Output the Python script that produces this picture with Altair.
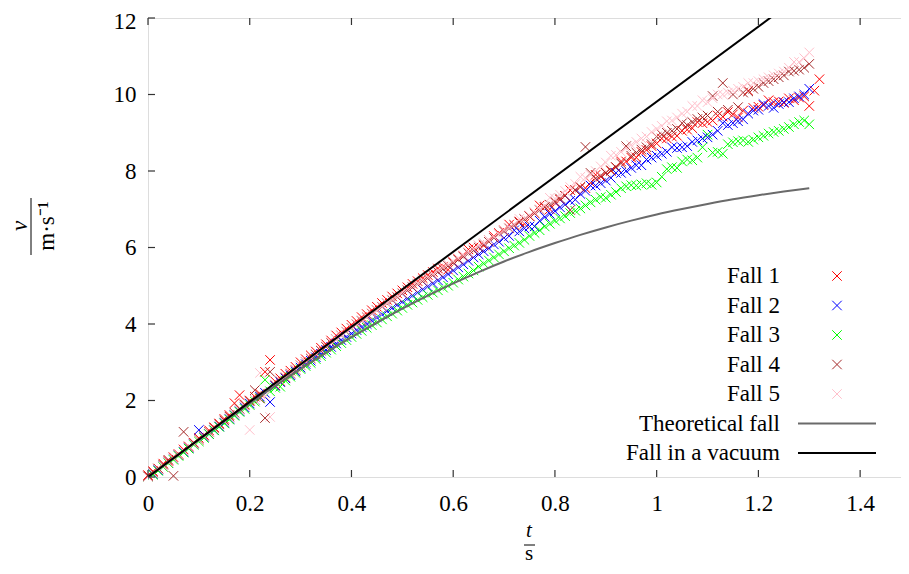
import altair as alt
import pandas as pd

# ---------------- data ----------------
T = [0.00, 0.01, 0.02, 0.03, 0.04, 0.05, 0.06, 0.07, 0.08, 0.09,
     0.10, 0.11, 0.12, 0.13, 0.14, 0.15, 0.16, 0.17, 0.18, 0.19,
     0.20, 0.21, 0.22, 0.23, 0.24, 0.25, 0.26, 0.27, 0.28, 0.29,
     0.30, 0.31, 0.32, 0.33, 0.34, 0.35, 0.36, 0.37, 0.38, 0.39,
     0.40, 0.41, 0.42, 0.43, 0.44, 0.45, 0.46, 0.47, 0.48, 0.49,
     0.50, 0.51, 0.52, 0.53, 0.54, 0.55, 0.56, 0.57, 0.58, 0.59,
     0.60, 0.61, 0.62, 0.63, 0.64, 0.65, 0.66, 0.67, 0.68, 0.69,
     0.70, 0.71, 0.72, 0.73, 0.74, 0.75, 0.76, 0.77, 0.78, 0.79,
     0.80, 0.81, 0.82, 0.83, 0.84, 0.85, 0.86, 0.87, 0.88, 0.89,
     0.90, 0.91, 0.92, 0.93, 0.94, 0.95, 0.96, 0.97, 0.98, 0.99,
     1.00, 1.01, 1.02, 1.03, 1.04, 1.05, 1.06, 1.07, 1.08, 1.09,
     1.10, 1.11, 1.12, 1.13, 1.14, 1.15, 1.16, 1.17, 1.18, 1.19,
     1.20, 1.21, 1.22, 1.23, 1.24, 1.25, 1.26, 1.27, 1.28, 1.29,
     1.30, 1.31, 1.32]

FALL1 = [0.05, 0.15, 0.22, 0.35, 0.42, 0.52, 0.60, 0.72, 0.80, 0.90,
         1.02, 1.10, 1.22, 1.30, 1.40, 1.52, 1.62, 1.93, 2.14, 1.90,
         2.00, 2.10, 2.18, 2.75, 3.06, 2.50, 2.58, 2.70, 2.78, 2.88,
         3.00, 3.08, 3.18, 3.28, 3.38, 3.47, 3.57, 3.70, 3.78, 3.88,
         3.98, 4.08, 4.18, 4.26, 4.36, 4.45, 4.55, 4.63, 4.72, 4.80,
         4.88, 4.96, 5.05, 5.12, 5.20, 5.28, 5.36, 5.45, 5.50, 5.42,
         5.62, 5.70, 5.78, 5.95, 6.00, 6.05, 6.05, 6.20, 6.30, 6.38,
         6.45, 6.60, 6.60, 6.68, 6.62, 6.82, 6.90, 7.10, 7.05, 7.00,
         7.18, 7.25, 7.35, 7.50, 7.50, 7.58, 7.55, 7.70, 7.90, 7.85,
         7.95, 8.00, 8.10, 8.25, 8.25, 8.35, 8.35, 8.50, 8.55, 8.65,
         8.72, 8.85, 8.85, 8.90, 8.92, 9.05, 9.08, 9.12, 9.28, 9.25,
         9.28, 9.32, 9.45, 9.42, 9.54, 9.48, 9.40, 9.58, 10.10, 9.65,
         9.68, 9.72, 9.85, 9.80, 9.82, 9.78, 9.90, 9.85, 9.92, 9.95,
         9.70, 10.10, 10.40]

FALL2 = [0.00, 0.08, 0.18, 0.28, 0.38, 0.48, 0.57, 0.66, 0.76, 0.86,
         1.23, 1.05, 1.12, 1.22, 1.32, 1.42, 1.52, 1.62, 1.72, 1.82,
         1.92, 2.02, 2.10, 2.20, 1.96, 2.38, 2.48, 2.58, 2.66, 2.76,
         2.86, 2.95, 3.04, 3.13, 3.22, 3.32, 3.40, 3.49, 3.58, 3.66,
         3.75, 3.84, 3.92, 4.00, 4.09, 4.17, 4.25, 4.34, 4.42, 4.50,
         4.58, 4.66, 4.74, 4.82, 4.90, 4.98, 5.06, 5.14, 5.22, 5.30,
         5.40, 5.48, 5.56, 5.65, 5.74, 5.82, 5.90, 5.98, 6.08, 6.15,
         6.25, 6.30, 6.45, 6.42, 6.50, 6.55, 6.55, 6.70, 6.80, 6.88,
         6.95, 7.05, 7.12, 7.22, 7.25, 7.40, 7.48, 7.62, 7.62, 7.68,
         7.75, 7.82, 7.95, 7.95, 8.00, 8.08, 8.15, 8.15, 8.30, 8.35,
         8.40, 8.45, 8.50, 8.62, 8.60, 8.62, 8.65, 8.76, 8.80, 8.85,
         8.88, 8.95, 9.05, 9.25, 9.20, 9.25, 9.30, 9.35, 9.50, 9.58,
         9.60, 9.75, 9.70, 9.65, 9.75, 9.80, 9.80, 9.90, 9.95, 10.00,
         10.15]

FALL3 = [0.00, 0.06, 0.16, 0.26, 0.36, 0.45, 0.55, 0.64, 0.74, 0.84,
         0.93, 1.02, 1.12, 1.22, 1.31, 1.40, 1.50, 1.60, 1.70, 1.78,
         1.88, 1.97, 2.06, 2.54, 2.24, 2.33, 2.36, 2.52, 2.62, 2.72,
         2.82, 2.90, 2.98, 3.08, 3.16, 3.25, 3.33, 3.42, 3.50, 3.58,
         3.66, 3.74, 3.82, 3.90, 3.97, 4.04, 4.12, 4.20, 4.27, 4.35,
         4.42, 4.50, 4.56, 4.63, 4.70, 4.76, 4.82, 4.88, 4.95, 5.00,
         5.08, 5.16, 5.24, 5.32, 5.40, 5.50, 5.58, 5.66, 5.74, 5.82,
         5.90, 5.98, 6.05, 6.12, 6.20, 6.30, 6.38, 6.45, 6.55, 6.62,
         6.70, 6.76, 6.82, 6.90, 6.96, 7.02, 7.10, 7.18, 7.25, 7.32,
         7.30, 7.38, 7.45, 7.55, 7.60, 7.63, 7.62, 7.65, 7.68, 7.64,
         7.70, 7.85, 8.05, 8.10, 8.08, 8.25, 8.30, 8.28, 8.35, 8.62,
         8.95, 8.48, 8.50, 8.45, 8.70, 8.75, 8.78, 8.80, 8.76, 8.82,
         8.88, 8.92, 8.98, 9.02, 9.05, 9.10, 9.15, 9.22, 9.28, 9.32,
         9.22]

FALL4 = [0.02, 0.12, 0.22, 0.32, 0.45, 0.03, 0.58, 1.18, 0.78, 0.88,
         0.98, 1.08, 1.18, 1.28, 1.38, 1.48, 1.58, 1.68, 1.78, 1.88,
         1.98, 2.27, 2.05, 1.54, 2.75, 2.40, 2.50, 2.60, 2.70, 2.80,
         2.92, 3.01, 3.10, 3.20, 3.30, 3.40, 3.50, 3.60, 3.70, 3.80,
         3.90, 3.99, 4.08, 4.18, 4.27, 4.36, 4.45, 4.54, 4.62, 4.70,
         4.80, 4.88, 4.96, 5.05, 5.12, 5.20, 5.28, 5.36, 5.44, 5.52,
         5.60, 5.68, 5.76, 5.85, 5.92, 6.00, 6.08, 6.15, 6.25, 6.35,
         6.42, 6.50, 6.58, 6.66, 6.74, 6.82, 6.90, 6.98, 7.06, 7.12,
         7.20, 7.28, 7.35, 6.98, 7.50, 7.58, 8.63, 7.95, 7.80, 7.88,
         7.95, 8.02, 8.10, 8.20, 8.65, 8.40, 8.48, 8.56, 8.62, 8.70,
         8.90, 8.95, 9.00, 9.05, 9.10, 9.25, 9.20, 9.28, 9.36, 9.40,
         9.45, 9.96, 9.55, 10.30, 9.60, 10.00, 9.67, 10.05, 10.08, 10.15,
         10.20, 10.30, 10.35, 10.40, 10.45, 10.50, 10.60, 10.62, 10.65, 10.70,
         10.80]

FALL5 = [0.00, 0.10, 0.20, 0.28, 0.38, 0.48, 0.58, 0.68, 0.78, 0.86,
         0.96, 1.06, 1.16, 1.26, 1.36, 1.45, 1.55, 1.65, 1.75, 1.85,
         1.23, 2.02, 2.72, 2.12, 1.57, 2.42, 2.52, 2.62, 2.72, 2.82,
         2.92, 3.02, 3.12, 3.22, 3.32, 3.42, 3.52, 3.60, 3.70, 3.80,
         3.90, 4.00, 4.10, 4.18, 4.28, 4.36, 4.46, 4.55, 4.64, 4.72,
         4.82, 4.90, 4.98, 5.06, 5.14, 5.22, 5.30, 5.40, 5.48, 5.56,
         5.64, 5.72, 5.80, 5.88, 5.96, 6.05, 6.12, 6.20, 6.28, 6.36,
         6.45, 6.52, 6.60, 6.75, 6.76, 6.84, 6.92, 7.00, 7.10, 7.30,
         7.28, 7.38, 7.48, 7.58, 7.66, 7.85, 7.82, 7.90, 8.00, 8.12,
         8.22, 8.40, 8.42, 8.50, 8.60, 8.68, 8.76, 8.85, 8.90, 9.02,
         9.10, 9.18, 9.30, 9.32, 9.40, 9.50, 9.55, 9.70, 9.70, 9.85,
         9.80, 9.90, 10.00, 10.00, 10.05, 10.10, 10.15, 10.20, 10.30, 10.30,
         10.35, 10.40, 10.45, 10.50, 10.55, 10.60, 10.70, 10.85, 10.85, 10.95,
         11.10]

THEORY_T = [0.00, 0.05, 0.10, 0.15, 0.20, 0.25, 0.30, 0.35, 0.40, 0.45,
            0.50, 0.55, 0.60, 0.65, 0.70, 0.75, 0.80, 0.85, 0.90, 0.95,
            1.00, 1.05, 1.10, 1.15, 1.20, 1.25, 1.30]
THEORY_V = [0.000, 0.490, 0.976, 1.456, 1.926, 2.383, 2.825, 3.250, 3.654, 4.039,
            4.402, 4.742, 5.060, 5.358, 5.635, 5.886, 6.116, 6.331, 6.525, 6.703,
            6.864, 7.007, 7.140, 7.262, 7.368, 7.465, 7.551]

VACUUM_T = [0.0, 1.5]
VACUUM_V = [0.0, 14.72]

SERIES_NAMES = ["Fall 1", "Fall 2", "Fall 3", "Fall 4", "Fall 5"]
SERIES_COLORS = ["#ff0000", "#0000ff", "#00ff00", "#a52a2a", "#ffc0cb"]
LINE_NAMES = ["Theoretical fall", "Fall in a vacuum"]
LINE_COLORS = ["#6a6a6a", "#000000"]

X_TICKS = [0, 0.2, 0.4, 0.6, 0.8, 1, 1.2, 1.4]
Y_TICKS = [0, 2, 4, 6, 8, 10, 12]

# ---------------- layout / style ----------------
W, H = 763, 459
PAD_L, PAD_T, PAD_B = 140, 10, 89
PAD_R = 893 - PAD_L - W          # keep the svg inside the 893px-wide page body
FONT = "Liberation Serif"
FS = 23
FS_FRAC = 21
FRAME = "#333333"
CROSS = "M-1,-1L1,1M-1,1L1,-1"

series = [FALL1, FALL2, FALL3, FALL4, FALL5]
rows = []
for name, vals in zip(SERIES_NAMES, series):
    for t, v in zip(T, vals):
        rows.append({"t": t, "v": v, "series": name})
pts = pd.DataFrame(rows)

xscale = alt.Scale(domain=[0, 1.5], nice=False, zero=False)
yscale = alt.Scale(domain=[0, 12], nice=False, zero=False)
xaxis = alt.Axis(values=X_TICKS, format="~g", ticks=False, domain=False, grid=False,
                 title=None, labelFont=FONT, labelFontSize=FS, labelColor="#000000",
                 labelPadding=15, labelFlush=False, labelOverlap=False)
yaxis = alt.Axis(values=Y_TICKS, format="~g", ticks=False, domain=False, grid=False,
                 title=None, labelFont=FONT, labelFontSize=FS, labelColor="#000000",
                 labelPadding=12, labelFlush=False, labelOverlap=False,
                 labelOffset={"condition": {"test": f"datum.value == {Y_TICKS[-1]}",
                                            "value": 3}, "value": 0})


def X(field="t"):
    return alt.X(field, type="quantitative", scale=xscale, axis=xaxis)


def Y(field="v"):
    return alt.Y(field, type="quantitative", scale=yscale, axis=yaxis)


scatter = alt.Chart(pts).mark_point(
    shape=CROSS, filled=False, strokeWidth=1, size=90, opacity=1
).encode(
    x=X(), y=Y(),
    color=alt.Color("series:N", scale=alt.Scale(domain=SERIES_NAMES, range=SERIES_COLORS),
                    legend=None),
)

theory = alt.Chart(pd.DataFrame({"t": THEORY_T, "v": THEORY_V})).mark_line(
    color=LINE_COLORS[0], strokeWidth=2, interpolate="monotone"
).encode(x=X(), y=Y())

vacuum = alt.Chart(pd.DataFrame({"t": VACUUM_T, "v": VACUUM_V})).mark_line(
    color=LINE_COLORS[1], strokeWidth=2, clip=True
).encode(x=X(), y=Y())

# inward ticks on all four sides
xt = pd.DataFrame({"t": X_TICKS})
yt = pd.DataFrame({"v": Y_TICKS})
tick_layers = [
    alt.Chart(xt).mark_rule(color=FRAME, strokeWidth=1.2).encode(
        x=X(), y=alt.value(H), y2=alt.value(H - 7)),
    alt.Chart(xt).mark_rule(color=FRAME, strokeWidth=1.2).encode(
        x=X(), y=alt.value(0), y2=alt.value(7)),
    alt.Chart(yt).mark_rule(color=FRAME, strokeWidth=1.2).encode(
        y=Y(), x=alt.value(0), x2=alt.value(7)),
    alt.Chart(yt).mark_rule(color=FRAME, strokeWidth=1.2).encode(
        y=Y(), x=alt.value(W), x2=alt.value(W - 7)),
]

# legend (drawn inside the plot, bottom right)
legend_layers = []
row_y0, row_dy = 258, 29.5
lab_x, sym_x, line_x0, line_x1 = 632, 689, 650, 728
all_names = SERIES_NAMES + LINE_NAMES
for i, name in enumerate(all_names):
    yy = row_y0 + i * row_dy
    one = pd.DataFrame({"label": [name]})
    legend_layers.append(
        alt.Chart(one).mark_text(align="right", baseline="middle", font=FONT,
                                 fontSize=FS, color="#000000").encode(
            x=alt.value(lab_x), y=alt.value(yy), text="label:N"))
    if i < len(SERIES_NAMES):
        legend_layers.append(
            alt.Chart(one).mark_point(shape=CROSS, filled=False, strokeWidth=1, size=90,
                                      color=SERIES_COLORS[i], opacity=1).encode(
                x=alt.value(sym_x), y=alt.value(yy)))
    else:
        legend_layers.append(
            alt.Chart(one).mark_rule(color=LINE_COLORS[i - len(SERIES_NAMES)],
                                     strokeWidth=2).encode(
                x=alt.value(line_x0), x2=alt.value(line_x1), y=alt.value(yy)))


# axis titles as fractions
def txt(s, x, y, angle=0, italic=False, size=FS):
    d = pd.DataFrame({"s": [s]})
    kw = dict(align="center", baseline="middle", font=FONT, fontSize=size, color="#000000")
    if angle:
        kw["angle"] = angle
    if italic:
        kw["fontStyle"] = "italic"
    return alt.Chart(d).mark_text(**kw).encode(x=alt.value(x), y=alt.value(y), text="s:N")


title_layers = [
    txt("v", -128, 208, angle=270, italic=True),
    alt.Chart(pd.DataFrame({"a": [0]})).mark_rule(color="#000000", strokeWidth=1).encode(
        x=alt.value(-117), y=alt.value(180), y2=alt.value(237)),
    txt("m·s⁻¹", -101, 208, angle=270),
    txt("t", 381, 513, italic=True, size=FS_FRAC),
    alt.Chart(pd.DataFrame({"a": [0]})).mark_rule(color="#000000", strokeWidth=1).encode(
        x=alt.value(376), x2=alt.value(387), y=alt.value(527)),
    txt("s", 381, 536, size=FS_FRAC),
]

chart = alt.layer(
    scatter, theory, vacuum, *tick_layers, *legend_layers, *title_layers
).properties(
    width=W, height=H,
    autosize=alt.AutoSizeParams(type="none"),
    padding={"left": PAD_L, "top": PAD_T, "right": PAD_R, "bottom": PAD_B},
).configure_view(
    stroke=FRAME, strokeWidth=1.5
).configure(background="#ffffff")

chart.save("out.html", embed_options={"renderer": "svg", "actions": False})
